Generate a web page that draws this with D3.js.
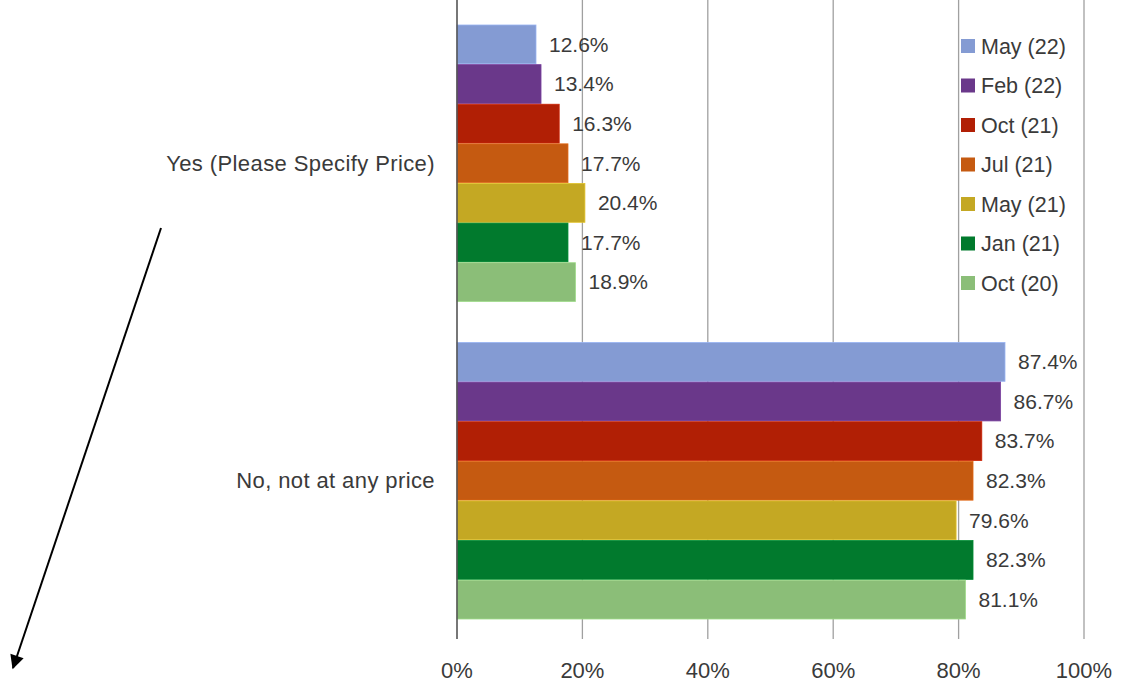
<!DOCTYPE html>
<html>
<head>
<meta charset="utf-8">
<script src="https://cdn.jsdelivr.net/npm/d3@7/dist/d3.min.js"></script>
<style>
  html, body { margin: 0; padding: 0; background: #fff; }
  svg { display: block; font-family: "Liberation Sans", Arial, sans-serif; }
</style>
</head>
<body>
<svg id="chart" width="1121" height="685"></svg>
<script>
// answers (y axis categories), top to bottom
const answers = ['Yes (Please Specify Price)', 'No, not at any price']
// survey waves, drawn top to bottom inside each answer group
const waves = ['May (22)', 'Feb (22)', 'Oct (21)', 'Jul (21)', 'May (21)', 'Jan (21)', 'Oct (20)']
const waveColors = ['#849bd3', '#6a388a', '#b11f05', '#c55a11', '#c4a823', '#017a2d', '#8bbe78']
// percent values per wave, in the same order as waves
const yesValues = [12.6, 13.4, 16.3, 17.7, 20.4, 17.7, 18.9]
const noValues = [87.4, 86.7, 83.7, 82.3, 79.6, 82.3, 81.1]
const xTicks = [0, 20, 40, 60, 80, 100]

const svg = d3.select('#chart')
const width = 1121
const height = 685
const textColor = '#3a3a3a'

const margin = { left: 457, right: 37, top: 5, bottom: 46 }
const plotBottom = height - margin.bottom

const x = d3.scaleLinear().domain([0, 100]).range([margin.left, width - margin.right])

const y = d3.scaleBand()
  .domain(answers)
  .range([margin.top, plotBottom])
  .paddingInner(0.129)
  .paddingOuter(0.063)

const yInner = d3.scaleBand()
  .domain(waves)
  .range([0, y.bandwidth()])
  .paddingInner(0.02)

const color = d3.scaleOrdinal().domain(waves).range(waveColors)

const rows = []
answers.forEach((a, i) => {
  const vals = i === 0 ? yesValues : noValues
  waves.forEach((w, j) => rows.push({ answer: a, wave: w, value: vals[j] }))
})

// gridlines
svg.append('g')
  .selectAll('line')
  .data(xTicks.slice(1))
  .join('line')
  .attr('x1', d => x(d)).attr('x2', d => x(d))
  .attr('y1', 0).attr('y2', plotBottom)
  .attr('stroke', '#a0a0a0')
  .attr('stroke-width', 1.3)

// bars
svg.append('g')
  .selectAll('rect')
  .data(rows)
  .join('rect')
  .attr('x', x(0))
  .attr('y', d => y(d.answer) + yInner(d.wave))
  .attr('width', d => x(d.value) - x(0))
  .attr('height', yInner.bandwidth())
  .attr('fill', d => color(d.wave))
  .attr('stroke', d => d3.color(color(d.wave)).brighter(0.4))
  .attr('stroke-width', 0.8)

// value labels
svg.append('g')
  .selectAll('text')
  .data(rows)
  .join('text')
  .attr('x', d => x(d.value) + 13)
  .attr('y', d => y(d.answer) + yInner(d.wave) + yInner.bandwidth() / 2)
  .attr('dy', '0.35em')
  .attr('font-size', 21)
  .attr('fill', textColor)
  .text(d => d.value.toFixed(1) + '%')

// y axis line
svg.append('line')
  .attr('x1', x(0)).attr('x2', x(0))
  .attr('y1', 0).attr('y2', plotBottom)
  .attr('stroke', '#555')
  .attr('stroke-width', 1.6)

// category labels
svg.append('g')
  .selectAll('text')
  .data(answers)
  .join('text')
  .attr('x', x(0) - 22)
  .attr('y', d => y(d) + y.bandwidth() / 2)
  .attr('dy', '0.35em')
  .attr('text-anchor', 'end')
  .attr('font-size', 22)
  .attr('letter-spacing', 0.4)
  .attr('fill', textColor)
  .text(d => d)

// x tick labels
svg.append('g')
  .selectAll('text')
  .data(xTicks)
  .join('text')
  .attr('x', d => x(d))
  .attr('y', plotBottom + 39)
  .attr('text-anchor', 'middle')
  .attr('font-size', 22)
  .attr('fill', textColor)
  .text(d => d + '%')

// legend
const legend = svg.append('g').attr('transform', 'translate(961,46)')
const item = legend.selectAll('g')
  .data(waves)
  .join('g')
  .attr('transform', (d, i) => `translate(0,${i * 39.5})`)
item.append('rect')
  .attr('x', 0).attr('y', -7)
  .attr('width', 14).attr('height', 14)
  .attr('fill', d => color(d))
item.append('text')
  .attr('x', 20)
  .attr('dy', '0.35em')
  .attr('font-size', 21.5)
  .attr('fill', textColor)
  .text(d => d)

// annotation arrow
const defs = svg.append('defs')
defs.append('marker')
  .attr('id', 'arrowhead')
  .attr('viewBox', '0 0 10 10')
  .attr('refX', 9).attr('refY', 5)
  .attr('markerWidth', 8).attr('markerHeight', 8)
  .attr('markerUnits', 'userSpaceOnUse')
  .attr('orient', 'auto')
  .attr('markerWidth', 16).attr('markerHeight', 14)
  .append('path')
  .attr('d', 'M0,0 L10,5 L0,10 Z')
  .attr('fill', '#000')

svg.append('line')
  .attr('x1', 161).attr('y1', 228)
  .attr('x2', 13).attr('y2', 668)
  .attr('stroke', '#000')
  .attr('stroke-width', 2)
  .attr('marker-end', 'url(#arrowhead)')
</script>
</body>
</html>
